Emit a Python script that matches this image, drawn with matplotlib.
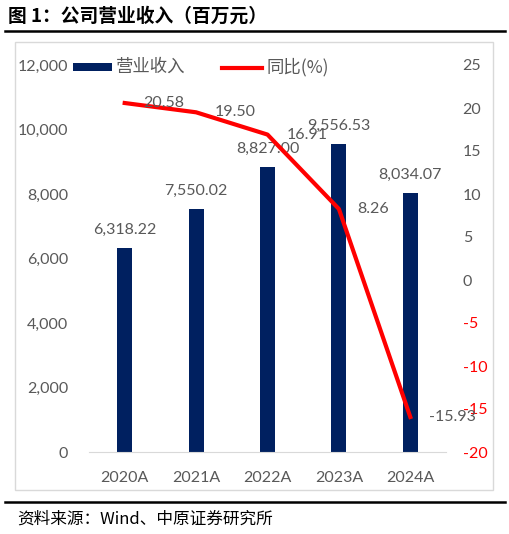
import matplotlib
matplotlib.use("Agg")
import matplotlib.pyplot as plt
from matplotlib.patches import Rectangle
from matplotlib.lines import Line2D

categories = ["2020A", "2021A", "2022A", "2023A", "2024A"]
revenue = [6318.22, 7550.02, 8827.00, 9556.53, 8034.07]
yoy = [20.58, 19.50, 16.91, 8.26, -15.93]
left_ticks = [0, 2000, 4000, 6000, 8000, 10000, 12000]
right_ticks = [-20, -15, -10, -5, 0, 5, 10, 15, 20, 25]

NUM = ["Lato", "DejaVu Sans"]
CJK = ["Noto Sans CJK SC", "DejaVu Sans"]
GREY = "#595959"
NAVY = "#002060"
RED = "#FF0000"

fig = plt.figure(figsize=(5.10, 5.34), dpi=100)
W, H = 510, 534

def fx(x):
    return x / W

def fy(y):
    return 1 - y / H

# title and rules
fig.text(fx(8), fy(16), "图 1：公司营业收入（百万元）", family=CJK, fontsize=13.5,
         fontweight="bold", va="center", ha="left", color="black")
fig.add_artist(Line2D([fx(5), fx(505)], [fy(31), fy(31)], color="black", lw=1.8))
fig.add_artist(Line2D([fx(5), fx(505)], [fy(502), fy(502)], color="black", lw=1.8))
fig.text(fx(17), fy(519), "资料来源：Wind、中原证券研究所", family=CJK, fontsize=12,
         va="center", ha="left", color="black")
fig.add_artist(Rectangle((fx(15), fy(490)), fx(493) - fx(15), fy(42) - fy(490),
                         fill=False, edgecolor="#D9D9D9", lw=1.0))

ax = fig.add_axes([fx(89), fy(452), fx(446) - fx(89), fy(65) - fy(452)])
x = list(range(len(categories)))
ax.bar(x, revenue, width=0.21, color=NAVY, zorder=2)
ax.set_xlim(-0.5, len(categories) - 0.5)
ax.set_ylim(0, 12000)
ax.set_yticks(left_ticks)
ax.set_yticklabels([f"{v:,}" for v in left_ticks], family=NUM, fontsize=11.5, color=GREY)
ax.set_xticks(x)
ax.set_xticklabels(categories, family=NUM, fontsize=11.5, color=GREY)
ax.tick_params(length=0)
ax.tick_params(axis="y", pad=15)
ax.tick_params(axis="x", pad=14)
for s in ["top", "right", "left"]:
    ax.spines[s].set_visible(False)
ax.spines["bottom"].set_color("#D9D9D9")
ax.patch.set_alpha(0)

for xi, v in zip(x, revenue):
    ax.annotate(f"{v:,.2f}", (xi, v), xytext=(0, 8), textcoords="offset points",
                ha="center", va="bottom", family=NUM, fontsize=11.5, color=GREY)

ax2 = ax.twinx()
ax2.plot(x, yoy, color=RED, lw=3, zorder=3)
ax2.set_ylim(-20, 25)
ax2.set_yticks(right_ticks)
ax2.set_yticklabels([str(v) for v in right_ticks], family=NUM, fontsize=11.5)
for lbl, v in zip(ax2.get_yticklabels(), right_ticks):
    lbl.set_color(RED if v < 0 else GREY)
ax2.tick_params(length=0, pad=12)
for s in ["top", "right", "left", "bottom"]:
    ax2.spines[s].set_visible(False)

for xi, v in zip(x, yoy):
    ax2.annotate(f"{v:.2f}", (xi, v), xytext=(13.5, 0), textcoords="offset points",
                 ha="left", va="center", family=NUM, fontsize=11.5, color=GREY)

# legend
fig.add_artist(Rectangle((fx(73), fy(71)), fx(112) - fx(73), fy(63) - fy(71),
                         facecolor=NAVY, edgecolor="none"))
fig.text(fx(116), fy(67), "营业收入", family=CJK, fontsize=12.5, color=GREY,
         va="center", ha="left")
fig.add_artist(Line2D([fx(222), fx(262)], [fy(68), fy(68)], color=RED, lw=3))
fig.text(fx(266), fy(67), "同比(%)", family=CJK, fontsize=12.5, color=GREY,
         va="center", ha="left")

fig.savefig("out.png", dpi=100)
